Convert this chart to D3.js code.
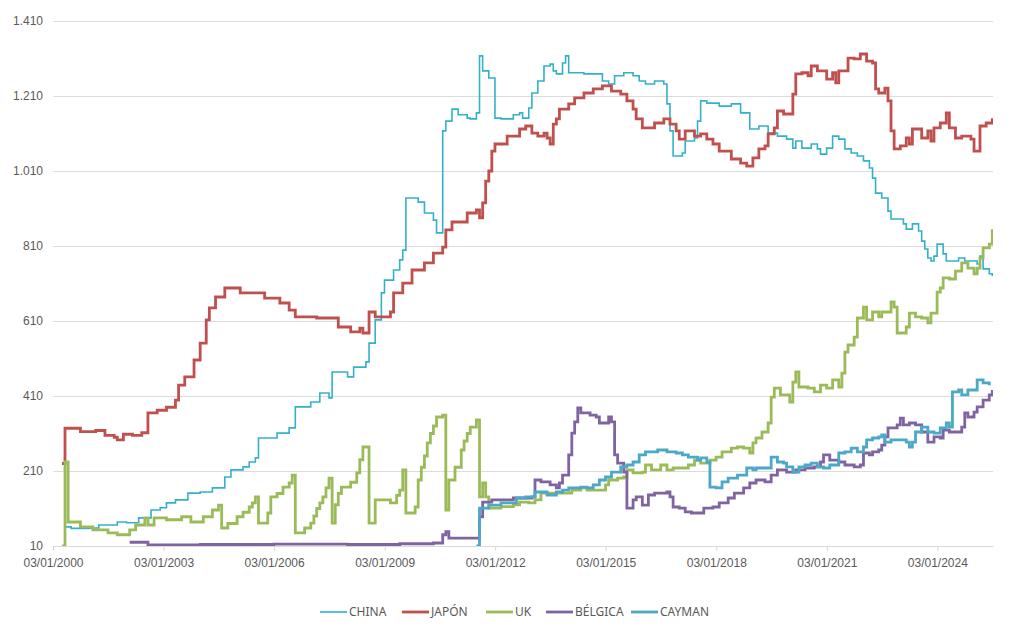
<!DOCTYPE html>
<html>
<head>
<meta charset="utf-8">
<script src="https://cdn.jsdelivr.net/npm/d3@7"></script>
<style>
  body { margin: 0; background: #fff; }
  svg { font-family: "Noto Sans", "DejaVu Sans", sans-serif; }
</style>
</head>
<body>
<div id="chart"></div>
<script>
// series values: [month, value]
const CHINA = [
  ["2000-05",61],["2000-07",57],["2001-01",58],["2001-04",66],["2001-10",74],["2002-01",72],
  ["2002-05",85],["2002-09",106],["2002-12",112],["2003-02",125],["2003-05",133],["2003-09",151],
  ["2004-01",154],["2004-05",165],["2004-09",194],["2004-11",213],["2005-03",221],["2005-05",234],
  ["2005-07",245],["2005-08",298],["2006-02",311],["2006-06",325],["2006-08",381],["2007-01",394],
  ["2007-04",418],["2007-07",405],["2007-08",474],["2008-01",461],["2008-03",487],["2008-07",501],
  ["2008-08",551],["2008-10",613],["2008-12",685],["2009-01",719],["2009-04",746],["2009-06",773],
  ["2009-07",799],["2009-08",938],["2009-12",927],["2010-02",898],["2010-05",879],["2010-06",845],
  ["2010-08",1117],["2010-09",1143],["2010-11",1175],["2011-01",1160],["2011-04",1151],["2011-05",1149],
  ["2011-07",1165],["2011-08",1317],["2011-09",1277],["2011-11",1258],["2012-01",1151],["2012-03",1149],
  ["2012-07",1160],["2012-09",1165],["2012-10",1151],["2012-12",1178],["2013-01",1218],["2013-03",1250],
  ["2013-05",1290],["2013-07",1295],["2013-08",1277],["2013-09",1269],["2013-11",1298],["2013-12",1317],
  ["2014-01",1272],["2014-06",1269],["2014-10",1269],["2014-12",1250],["2015-02",1242],["2015-04",1264],
  ["2015-07",1272],["2015-10",1264],["2015-12",1250],["2016-02",1242],["2016-05",1250],["2016-08",1242],
  ["2016-09",1189],["2016-10",1117],["2016-11",1050],["2017-02",1058],["2017-03",1090],["2017-06",1098],
  ["2017-07",1143],["2017-08",1197],["2017-10",1191],["2018-02",1183],["2018-06",1189],["2018-09",1165],
  ["2018-12",1122],["2019-03",1130],["2019-06",1111],["2019-09",1103],["2019-12",1095],["2020-02",1071],
  ["2020-03",1090],["2020-05",1071],["2020-08",1082],["2020-10",1069],["2020-11",1055],["2021-01",1071],
  ["2021-03",1103],["2021-05",1095],["2021-07",1069],["2021-09",1058],["2021-11",1050],["2022-01",1037],
  ["2022-03",1018],["2022-04",991],["2022-05",951],["2022-07",938],["2022-09",903],["2022-10",882],
  ["2023-02",869],["2023-03",855],["2023-05",869],["2023-07",850],["2023-08",823],["2023-09",802],
  ["2023-10",778],["2023-11",770],["2023-12",783],["2024-01",815],["2024-03",789],["2024-04",770],
  ["2024-08",778],["2024-10",770],["2025-02",762],["2025-03",783],["2025-04",749],["2025-06",736],
  ["2025-07",730]
];
const JAPON = [
  ["2000-04",230],["2000-05",324],["2000-10",315],["2001-03",318],["2001-06",305],["2001-09",300],
  ["2001-10",293],["2001-12",308],["2002-03",305],["2002-06",312],["2002-08",365],["2002-11",372],
  ["2003-02",380],["2003-05",399],["2003-06",439],["2003-08",461],["2003-11",506],["2004-01",551],
  ["2004-03",613],["2004-04",645],["2004-06",674],["2004-09",698],["2005-02",685],["2005-06",685],
  ["2005-10",671],["2006-03",658],["2006-06",639],["2006-08",621],["2007-03",618],["2007-08",618],
  ["2007-10",594],["2008-02",581],["2008-05",591],["2008-06",578],["2008-08",634],["2008-10",621],
  ["2009-03",634],["2009-04",685],["2009-07",711],["2009-10",746],["2010-02",765],["2010-05",791],
  ["2010-08",807],["2010-09",853],["2010-11",874],["2011-04",898],["2011-07",906],["2011-08",885],
  ["2011-09",925],["2011-10",983],["2011-11",1010],["2011-12",1063],["2012-01",1082],["2012-05",1103],
  ["2012-09",1122],["2012-11",1130],["2013-01",1111],["2013-03",1103],["2013-05",1111],["2013-06",1098],
  ["2013-07",1082],["2013-08",1135],["2013-09",1149],["2013-10",1175],["2014-01",1189],["2014-03",1205],
  ["2014-06",1218],["2014-09",1229],["2014-12",1237],["2015-03",1223],["2015-06",1215],["2015-08",1197],
  ["2015-10",1175],["2015-11",1149],["2016-01",1125],["2016-05",1138],["2016-08",1149],["2016-10",1135],
  ["2016-12",1117],["2017-01",1095],["2017-03",1117],["2017-06",1103],["2017-08",1109],["2017-10",1095],
  ["2017-12",1082],["2018-02",1063],["2018-06",1042],["2018-09",1031],["2018-11",1023],["2019-01",1045],
  ["2019-03",1069],["2019-05",1077],["2019-06",1109],["2019-08",1125],["2019-09",1170],["2019-11",1162],
  ["2020-02",1215],["2020-03",1269],["2020-05",1272],["2020-07",1264],["2020-08",1290],["2020-10",1277],
  ["2021-01",1255],["2021-03",1272],["2021-04",1245],["2021-05",1277],["2021-08",1311],["2021-10",1309],
  ["2021-12",1322],["2022-02",1303],["2022-04",1298],["2022-05",1229],["2022-06",1218],["2022-08",1231],
  ["2022-09",1197],["2022-10",1117],["2022-11",1069],["2023-01",1077],["2023-03",1098],["2023-04",1082],
  ["2023-05",1122],["2023-08",1098],["2023-10",1117],["2023-11",1090],["2023-12",1125],["2024-02",1138],
  ["2024-04",1165],["2024-05",1125],["2024-07",1098],["2024-09",1103],["2024-12",1095],["2025-01",1063],
  ["2025-03",1130],["2025-05",1138],["2025-07",1151]
];
const UK = [
  ["2000-04",10],["2000-05",234],["2000-06",74],["2000-10",61],["2001-02",53],["2001-07",45],
  ["2001-10",40],["2002-02",53],["2002-04",66],["2002-07",85],["2002-08",66],["2002-10",85],
  ["2003-02",80],["2003-07",88],["2003-10",74],["2004-02",88],["2004-05",106],["2004-07",119],
  ["2004-08",58],["2004-10",70],["2005-01",88],["2005-03",100],["2005-05",114],["2005-06",125],
  ["2005-07",141],["2005-08",71],["2005-11",98],["2005-12",141],["2006-02",150],["2006-04",167],
  ["2006-06",178],["2006-07",199],["2006-08",45],["2006-11",58],["2007-01",71],["2007-02",90],
  ["2007-03",110],["2007-04",125],["2007-05",141],["2007-06",165],["2007-07",191],["2007-08",71],
  ["2007-09",120],["2007-10",150],["2007-11",167],["2008-02",180],["2008-04",205],["2008-05",240],
  ["2008-06",274],["2008-08",71],["2008-10",133],["2009-03",125],["2009-05",145],["2009-06",159],
  ["2009-07",213],["2009-08",98],["2009-11",114],["2009-12",186],["2010-01",220],["2010-02",250],
  ["2010-03",285],["2010-04",310],["2010-05",330],["2010-06",354],["2010-08",359],["2010-09",106],
  ["2010-10",186],["2010-12",220],["2011-02",266],["2011-03",290],["2011-04",310],["2011-05",327],
  ["2011-07",346],["2011-08",141],["2011-09",178],["2011-10",141],["2011-11",111],["2012-03",115],
  ["2012-07",120],["2012-09",127],["2012-12",125],["2013-02",133],["2013-04",151],["2013-11",151],
  ["2014-02",159],["2014-05",165],["2014-07",159],["2014-11",159],["2015-01",173],["2015-02",186],
  ["2015-05",191],["2015-07",194],["2015-08",213],["2015-10",205],["2016-01",207],["2016-02",226],
  ["2016-04",213],["2016-07",226],["2016-09",213],["2016-11",218],["2017-02",218],["2017-04",226],
  ["2017-06",239],["2017-08",231],["2017-11",239],["2018-01",247],["2018-03",261],["2018-06",271],
  ["2018-08",274],["2018-10",271],["2018-12",258],["2019-01",285],["2019-02",298],["2019-04",314],
  ["2019-06",338],["2019-07",407],["2019-08",431],["2019-10",413],["2020-01",394],["2020-02",447],
  ["2020-03",474],["2020-04",434],["2020-07",431],["2020-09",421],["2020-11",439],["2021-01",431],
  ["2021-03",453],["2021-05",434],["2021-06",471],["2021-07",527],["2021-08",546],["2021-10",567],
  ["2021-11",618],["2022-01",647],["2022-02",613],["2022-04",634],["2022-06",621],["2022-07",634],
  ["2022-10",661],["2022-11",647],["2022-12",578],["2023-03",594],["2023-04",631],["2023-06",621],
  ["2023-08",618],["2023-10",605],["2023-11",631],["2024-01",687],["2024-02",698],["2024-03",725],
  ["2024-05",722],["2024-07",743],["2024-09",765],["2024-11",751],["2025-01",736],["2025-02",751],
  ["2025-03",778],["2025-04",805],["2025-06",815],["2025-07",855]
];
const BELGICA = [
  ["2002-02",20],["2002-08",13],["2004-01",14],["2006-01",15],["2008-01",14],["2009-06",16],
  ["2010-05",18],["2010-08",40],["2010-09",48],["2010-10",31],["2011-08",88],["2011-09",127],
  ["2011-12",133],["2012-07",138],["2013-01",141],["2013-02",186],["2013-04",181],["2013-07",173],
  ["2013-09",165],["2013-10",178],["2013-11",199],["2014-01",253],["2014-02",311],["2014-03",341],
  ["2014-04",378],["2014-05",365],["2014-08",359],["2014-10",354],["2014-11",338],["2015-02",354],
  ["2015-03",341],["2015-04",253],["2015-05",231],["2015-07",207],["2015-08",111],["2015-10",133],
  ["2015-11",141],["2016-01",119],["2016-03",146],["2016-05",151],["2016-09",154],["2016-10",141],
  ["2016-11",114],["2017-01",111],["2017-03",101],["2017-05",98],["2017-09",111],["2017-12",114],
  ["2018-02",125],["2018-05",138],["2018-07",151],["2018-10",165],["2018-12",178],["2019-02",186],
  ["2019-05",181],["2019-07",199],["2019-09",213],["2019-12",207],["2020-03",213],["2020-06",218],
  ["2020-09",221],["2020-11",234],["2020-12",253],["2021-02",239],["2021-05",234],["2021-07",226],
  ["2021-10",221],["2021-12",226],["2022-01",258],["2022-03",253],["2022-04",261],["2022-06",266],
  ["2022-07",279],["2022-08",301],["2022-09",325],["2022-12",333],["2023-01",351],["2023-02",333],
  ["2023-04",338],["2023-06",333],["2023-08",314],["2023-10",287],["2023-12",301],["2024-02",298],
  ["2024-03",319],["2024-05",314],["2024-08",314],["2024-09",327],["2024-10",365],["2024-11",354],
  ["2025-01",367],["2025-02",381],["2025-04",399],["2025-06",413],["2025-07",426]
];
const CAYMAN = [
  ["2011-07",10],["2011-08",111],["2011-11",119],["2012-03",125],["2012-08",138],["2012-11",141],
  ["2013-02",154],["2013-06",146],["2013-09",154],["2013-11",159],["2014-01",165],["2014-05",167],
  ["2014-07",165],["2014-09",173],["2014-11",186],["2015-01",194],["2015-03",207],["2015-06",221],
  ["2015-08",226],["2015-10",234],["2015-12",253],["2016-02",261],["2016-06",266],["2016-09",261],
  ["2016-12",258],["2017-02",253],["2017-04",247],["2017-07",239],["2017-08",245],["2017-10",234],
  ["2017-11",167],["2018-01",165],["2018-03",181],["2018-05",191],["2018-08",199],["2018-11",218],
  ["2019-01",213],["2019-02",218],["2019-05",218],["2019-07",247],["2019-09",234],["2019-11",231],
  ["2019-12",221],["2020-02",207],["2020-04",221],["2020-06",226],["2020-08",231],["2020-10",221],
  ["2020-12",218],["2021-02",226],["2021-05",258],["2021-07",261],["2021-09",271],["2021-11",261],
  ["2022-01",274],["2022-02",293],["2022-04",298],["2022-06",301],["2022-07",306],["2022-08",287],
  ["2022-10",293],["2023-01",293],["2023-03",287],["2023-04",274],["2023-05",287],["2023-06",314],
  ["2023-08",327],["2023-10",314],["2023-12",311],["2024-02",325],["2024-04",338],["2024-05",327],
  ["2024-06",421],["2024-08",426],["2024-09",413],["2024-11",426],["2025-02",453],["2025-04",445],
  ["2025-06",439]
];

const seriesNames = ["CHINA", "JAPÓN", "UK", "BÉLGICA", "CAYMAN"];
const seriesData = [CHINA, JAPON, UK, BELGICA, CAYMAN];
const seriesColors = ["#35b0cb", "#c0504d", "#9bbb59", "#8064a2", "#4ba8c6"];
const seriesWidths = [1.6, 2.8, 2.8, 2.8, 2.8];
const yTicks = [10, 210, 410, 610, 810, 1010, 1210, 1410];
const xTickYears = [2000, 2003, 2006, 2009, 2012, 2015, 2018, 2021, 2024];

const width = 1020, height = 629;
const margin = {top: 21, right: 27, bottom: 83, left: 53};

const parseMonth = d3.timeParse("%Y-%m");

const svg = d3.select("#chart").append("svg")
  .attr("width", width)
  .attr("height", height);

const x = d3.scaleTime()
  .domain([new Date(2000, 0, 3), new Date(2025, 6, 8)])
  .range([margin.left, width - margin.right]);

const y = d3.scaleLinear()
  .domain([10, 1410])
  .range([height - margin.bottom, margin.top]);

const locale = d3.formatLocale({decimal: ",", thousands: ".", grouping: [3], currency: ["", "€"]});
const fmt = locale.format(",");

// grid + y labels
const yAxis = svg.append("g")
  .attr("transform", `translate(${margin.left},0)`)
  .call(d3.axisLeft(y).tickValues(yTicks).tickFormat(fmt)
    .tickSize(-(width - margin.left - margin.right)).tickPadding(10));
yAxis.select(".domain").remove();
yAxis.selectAll(".tick line").attr("stroke", "#dcdcdc").attr("stroke-width", 1);
yAxis.selectAll(".tick text").attr("fill", "#595959").style("font-size", "12px");

// x axis
const xAxis = svg.append("g")
  .attr("transform", `translate(0,${height - margin.bottom})`)
  .call(d3.axisBottom(x)
    .tickValues(xTickYears.map(yr => new Date(yr, 0, 3)))
    .tickFormat(d3.timeFormat("%d/%m/%Y"))
    .tickSize(5).tickSizeOuter(0).tickPadding(7));
xAxis.select(".domain").attr("stroke", "#d9d9d9");
xAxis.selectAll(".tick line").attr("stroke", "#d9d9d9");
xAxis.selectAll(".tick text").attr("fill", "#595959").style("font-size", "12px");

// lines
const line = d3.line()
  .curve(d3.curveStepAfter)
  .x(d => x(parseMonth(d[0])))
  .y(d => y(d[1]));

svg.append("clipPath").attr("id", "plot")
  .append("rect")
  .attr("x", margin.left).attr("y", 0)
  .attr("width", width - margin.left - margin.right)
  .attr("height", height - margin.bottom);

svg.append("g")
  .attr("clip-path", "url(#plot)")
  .selectAll("path")
  .data(seriesData)
  .join("path")
  .attr("fill", "none")
  .attr("stroke", (d, i) => seriesColors[i])
  .attr("stroke-width", (d, i) => seriesWidths[i])
  .attr("stroke-linejoin", "miter")
  .attr("d", line);

// legend
const legendX = [320, 402, 486, 546, 631];
const legend = svg.append("g")
  .attr("transform", `translate(0,612)`)
  .selectAll("g")
  .data(seriesNames)
  .join("g")
  .attr("transform", (d, i) => `translate(${legendX[i]},0)`);
legend.append("line")
  .attr("x1", 0).attr("x2", 27)
  .attr("stroke", (d, i) => seriesColors[i])
  .attr("stroke-width", (d, i) => seriesWidths[i]);
legend.append("text")
  .attr("x", 29).attr("dy", "0.35em")
  .attr("fill", "#595959")
  .style("font-size", "12px")
  .text(d => d);
</script>
</body>
</html>
